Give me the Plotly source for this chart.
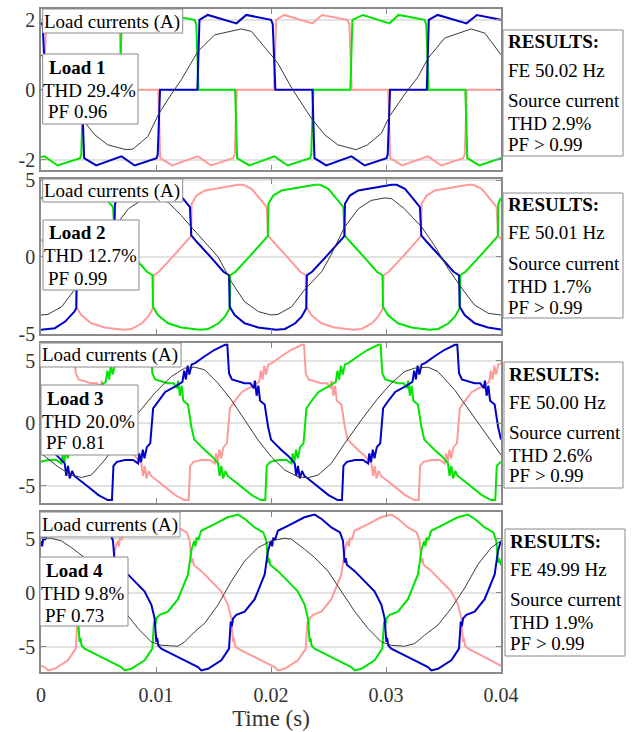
import plotly.graph_objects as go
from plotly.subplots import make_subplots

W, H = 635, 732

# ---------------- data: (time in ms, current in A) ----------------
# Panel 1
BLUE1 = [(0,1.92),(0.15,1.85),(0.4,0.0),(3.55,0.0),(3.75,-1.95),(4.8,-2.16),(7.0,-1.9),(8.15,-2.16),(10.05,-1.95),(10.15,-1.85),(10.35,0.0),(13.6,0.0),(13.78,2.0),(14.5,2.14),(17.0,1.9),(17.85,2.14),(20.0,2.0),(20.15,1.88),(20.38,0.0),(23.6,0.0),(23.78,-1.95),(24.8,-2.16),(27.0,-1.9),(28.15,-2.16),(30.05,-1.95),(30.15,-1.85),(30.35,0.0),(33.55,0.0),(33.72,2.0),(34.5,2.14),(37.0,1.9),(37.9,2.14),(40.0,2.0)]
GREEN1 = [(0,-1.92),(0.3,-1.9),(1.45,-2.16),(3.4,-1.95),(3.5,-1.85),(3.68,0.0),(6.85,0.0),(7.02,2.0),(7.8,2.14),(10.25,1.9),(11.1,2.14),(13.35,2.0),(13.5,1.88),(13.7,0.0),(16.88,0.0),(17.05,-1.95),(18.1,-2.16),(20.3,-1.9),(21.45,-2.16),(23.4,-1.95),(23.5,-1.85),(23.68,0.0),(26.9,0.0),(27.08,2.0),(28.0,2.14),(30.3,1.9),(31.1,2.14),(33.35,2.0),(33.5,1.88),(33.7,0.0),(36.9,0.0),(37.07,-1.95),(38.1,-2.16),(40.0,-1.95)]
PINK1 = [(0,0.0),(0.25,0.0),(0.45,2.0),(1.15,2.14),(3.6,1.9),(4.45,2.14),(6.65,2.0),(6.82,1.88),(7.02,0.0),(10.2,0.0),(10.37,-1.95),(11.4,-2.16),(13.65,-1.9),(14.8,-2.16),(16.7,-1.95),(16.85,-1.85),(17.02,0.0),(20.25,0.0),(20.45,2.0),(21.15,2.14),(23.6,1.9),(24.45,2.14),(26.65,2.0),(26.82,1.88),(27.02,0.0),(30.2,0.0),(30.37,-1.95),(31.4,-2.16),(33.65,-1.9),(34.8,-2.16),(36.7,-1.95),(36.85,-1.85),(37.02,0.0),(40.0,0.0)]
BLACK1 = [(0,1.0),(0.6,0.76),(1.8,0.05),(3.5,-0.81),(4.7,-1.29),(5.8,-1.57),(7.4,-1.71),(8.0,-1.69),(9.3,-1.33),(10.2,-0.71),(11.3,-0.14),(12.2,0.29),(13.65,1.1),(15.1,1.57),(17.4,1.74),(18.3,1.67),(20.0,1.0),(20.6,0.76),(21.8,0.05),(23.5,-0.81),(24.7,-1.29),(25.8,-1.57),(27.4,-1.71),(28.4,-1.57),(29.6,-1.24),(30.3,-0.76),(31.6,-0.14),(32.8,0.38),(33.65,0.9),(35.1,1.48),(37.4,1.74),(38.6,1.62),(40,1.0)]

# Panel 2
BLUE2 = [(0,-4.76),(1.2,-4.65),(2.1,-4.22),(2.9,-3.57),(3.07,-3.35),(3.12,-1.2),(3.57,-0.97),(4.77,0.0),(5.9,1.0),(6.38,1.35),(6.43,3.46),(6.86,4.0),(7.59,4.33),(8.46,4.44),(9.62,4.55),(10.49,4.7),(10.93,4.7),(11.65,4.44),(12.37,3.79),(12.95,3.25),(13.07,1.41),(13.52,1.0),(14.74,0.0),(15.87,-0.97),(16.35,-1.2),(16.41,-3.25),(16.84,-3.79),(17.71,-4.33),(18.87,-4.6),(20.47,-4.76),(21.21,-4.7),(22.11,-4.33),(22.66,-3.9),(23.07,-3.35),(23.12,-1.2),(23.57,-0.97),(24.77,0.0),(25.9,1.0),(26.38,1.35),(26.43,3.46),(26.86,4.0),(27.59,4.33),(28.46,4.44),(29.62,4.55),(30.49,4.7),(30.93,4.7),(31.65,4.44),(32.37,3.79),(32.95,3.25),(33.07,1.41),(33.52,1.0),(34.74,0.0),(35.87,-0.97),(36.35,-1.2),(36.41,-3.25),(36.84,-3.79),(37.71,-4.33),(38.87,-4.6),(40.0,-4.74)]
GREEN2 = [(0,3.8),(0.9,4.33),(1.77,4.44),(2.93,4.55),(3.8,4.7),(4.24,4.7),(4.96,4.44),(5.68,3.79),(6.26,3.25),(6.41,1.41),(6.86,1.0),(8.08,0.0),(9.21,-0.97),(9.69,-1.2),(9.74,-3.25),(10.17,-3.79),(11.04,-4.33),(12.2,-4.6),(13.8,-4.76),(14.54,-4.7),(15.44,-4.33),(15.99,-3.9),(16.41,-3.35),(16.46,-1.2),(16.91,-0.97),(18.11,0.0),(19.24,1.0),(19.72,1.35),(19.77,3.46),(20.2,4.0),(20.93,4.33),(21.8,4.44),(22.96,4.55),(23.83,4.7),(24.27,4.7),(24.99,4.44),(25.71,3.79),(26.29,3.25),(26.41,1.41),(26.86,1.0),(28.08,0.0),(29.21,-0.97),(29.69,-1.2),(29.74,-3.25),(30.17,-3.79),(31.04,-4.33),(32.2,-4.6),(33.8,-4.76),(34.54,-4.7),(35.44,-4.33),(35.99,-3.9),(36.41,-3.35),(36.46,-1.2),(36.91,-0.97),(38.11,0.0),(39.24,1.0),(39.72,1.35),(39.77,3.46),(40.0,3.85)]
PINK2 = [(0,1.15),(1.41,0.0),(2.54,-0.97),(3.02,-1.2),(3.07,-3.25),(3.5,-3.79),(4.37,-4.33),(5.53,-4.6),(7.13,-4.76),(7.87,-4.7),(8.77,-4.33),(9.32,-3.9),(9.74,-3.35),(9.79,-1.2),(10.24,-0.97),(11.44,0.0),(12.57,1.0),(13.05,1.35),(13.1,3.46),(13.53,4.0),(14.26,4.33),(15.13,4.44),(16.29,4.55),(17.16,4.7),(17.6,4.7),(18.32,4.44),(19.04,3.79),(19.62,3.25),(19.74,1.41),(20.19,1.0),(21.41,0.0),(22.54,-0.97),(23.02,-1.2),(23.07,-3.25),(23.5,-3.79),(24.37,-4.33),(25.53,-4.6),(27.13,-4.76),(27.87,-4.7),(28.77,-4.33),(29.32,-3.9),(29.74,-3.35),(29.79,-1.2),(30.24,-0.97),(31.44,0.0),(32.57,1.0),(33.05,1.35),(33.1,3.46),(33.53,4.0),(34.26,4.33),(35.13,4.44),(36.29,4.55),(37.16,4.7),(37.6,4.7),(38.32,4.44),(39.04,3.79),(39.62,3.25),(39.74,1.41),(40.0,1.15)]
BLACK2 = [(0,-3.79),(0.6,-3.75),(1.8,-3.25),(2.9,-2.16),(4.4,-0.97),(5.2,0.1),(6.4,1.95),(7.6,3.14),(8.7,3.68),(9.9,3.85),(11.04,3.57),(12.2,2.7),(13.07,1.95),(14.2,0.97),(15.4,0.0),(16.55,-1.62),(17.7,-2.92),(18.9,-3.57),(20.0,-3.79),(20.6,-3.75),(21.8,-3.25),(22.9,-2.16),(24.4,-0.97),(25.2,0.1),(26.4,1.95),(27.6,3.14),(28.7,3.68),(29.9,3.85),(30.5,3.79),(31.6,3.14),(33.1,1.95),(34.2,0.76),(35.4,-0.76),(36.6,-2.06),(37.7,-3.14),(38.9,-3.68),(40,-3.79)]

# Panel 3
BLUE3 = [(0,-1.3),(0.9,-2.13),(1.5,-2.6),(2.06,-3.2),(2.2,-4.2),(2.35,-3.4),(2.5,-4.4),(2.7,-3.8),(2.9,-4.2),(3.2,-4.4),(4.1,-5.07),(5.0,-5.73),(5.8,-6.13),(6.17,-6.13),(6.3,-3.4),(6.6,-3.07),(7.3,-2.93),(8.0,-2.93),(8.45,-3.2),(8.55,-2.4),(8.7,-3.1),(8.85,-2.1),(9.0,-2.8),(9.2,-1.9),(9.5,-1.6),(9.75,1.2),(10.2,1.8),(10.8,2.5),(11.6,2.9),(12.3,3.3),(12.45,4.2),(12.6,3.5),(12.75,4.6),(12.9,3.9),(13.1,4.7),(13.4,4.8),(14.2,5.33),(15.1,5.87),(16.0,6.27),(16.2,6.27),(16.35,4.0),(16.6,3.5),(17.7,3.2),(18.2,3.2),(18.5,2.8),(18.6,3.4),(18.75,2.2),(18.9,3.0),(19.05,1.8),(19.45,1.5),(19.75,-0.3),
         (20.0,-1.3),(20.9,-2.13),(21.5,-2.6),(22.06,-3.2),(22.2,-4.2),(22.35,-3.4),(22.5,-4.4),(22.7,-3.8),(22.9,-4.2),(23.2,-4.4),(24.1,-5.07),(25.0,-5.73),(25.8,-6.13),(26.17,-6.13),(26.3,-3.4),(26.6,-3.07),(27.3,-2.93),(28.0,-2.93),(28.45,-3.2),(28.55,-2.4),(28.7,-3.1),(28.85,-2.1),(29.0,-2.8),(29.2,-1.9),(29.5,-1.6),(29.75,1.2),(30.2,1.8),(30.8,2.5),(31.6,2.9),(32.3,3.3),(32.45,4.2),(32.6,3.5),(32.75,4.6),(32.9,3.9),(33.1,4.7),(33.4,4.8),(34.2,5.33),(35.1,5.87),(36.0,6.27),(36.2,6.27),(36.35,4.0),(36.6,3.5),(37.7,3.2),(38.2,3.2),(38.5,2.8),(38.6,3.4),(38.75,2.2),(38.9,3.0),(39.05,1.8),(39.45,1.5),(39.75,-0.3),(40.0,-1.3)]
GREEN3 = [(0,-3.06),(0.63,-2.93),(1.33,-2.93),(1.78,-3.2),(1.88,-2.4),(2.03,-3.1),(2.18,-2.1),(2.33,-2.8),(2.53,-1.9),(2.83,-1.6),(3.08,1.2),(3.53,1.8),(4.13,2.5),(4.93,2.9),(5.63,3.3),(5.78,4.2),(5.93,3.5),(6.08,4.6),(6.23,3.9),(6.43,4.7),(6.73,4.8),(7.53,5.33),(8.43,5.87),(9.33,6.27),(9.53,6.27),(9.68,4.0),(9.93,3.5),(11.03,3.2),(11.53,3.2),(11.83,2.8),(11.93,3.4),(12.08,2.2),(12.23,3.0),(12.38,1.8),(12.78,1.5),(13.08,-0.3),(13.33,-1.3),(14.23,-2.13),(14.83,-2.6),(15.39,-3.2),(15.53,-4.2),(15.68,-3.4),(15.83,-4.4),(16.03,-3.8),(16.23,-4.2),(16.53,-4.4),(17.43,-5.07),(18.33,-5.73),(19.13,-6.13),(19.5,-6.13),(19.63,-3.4),(19.93,-3.07),
          (20.63,-2.93),(21.33,-2.93),(21.78,-3.2),(21.88,-2.4),(22.03,-3.1),(22.18,-2.1),(22.33,-2.8),(22.53,-1.9),(22.83,-1.6),(23.08,1.2),(23.53,1.8),(24.13,2.5),(24.93,2.9),(25.63,3.3),(25.78,4.2),(25.93,3.5),(26.08,4.6),(26.23,3.9),(26.43,4.7),(26.73,4.8),(27.53,5.33),(28.43,5.87),(29.33,6.27),(29.53,6.27),(29.68,4.0),(29.93,3.5),(31.03,3.2),(31.53,3.2),(31.83,2.8),(31.93,3.4),(32.08,2.2),(32.23,3.0),(32.38,1.8),(32.78,1.5),(33.08,-0.3),(33.33,-1.3),(34.23,-2.13),(34.83,-2.6),(35.39,-3.2),(35.53,-4.2),(35.68,-3.4),(35.83,-4.4),(36.03,-3.8),(36.23,-4.2),(36.53,-4.4),(37.43,-5.07),(38.33,-5.73),(39.13,-6.13),(39.5,-6.13),(39.63,-3.4),(39.93,-3.07),(40.0,-3.06)]
PINK3 = [(0,4.78),(0.07,4.8),(0.87,5.33),(1.77,5.87),(2.67,6.27),(2.87,6.27),(3.02,4.0),(3.27,3.5),(4.37,3.2),(4.87,3.2),(5.17,2.8),(5.27,3.4),(5.42,2.2),(5.57,3.0),(5.72,1.8),(6.12,1.5),(6.42,-0.3),(6.67,-1.3),(7.57,-2.13),(8.17,-2.6),(8.73,-3.2),(8.87,-4.2),(9.02,-3.4),(9.17,-4.4),(9.37,-3.8),(9.57,-4.2),(9.87,-4.4),(10.77,-5.07),(11.67,-5.73),(12.47,-6.13),(12.84,-6.13),(12.97,-3.4),(13.27,-3.07),(13.97,-2.93),(14.67,-2.93),(15.12,-3.2),(15.22,-2.4),(15.37,-3.1),(15.52,-2.1),(15.67,-2.8),(15.87,-1.9),(16.17,-1.6),(16.42,1.2),(16.87,1.8),(17.47,2.5),(18.27,2.9),(18.97,3.3),(19.12,4.2),(19.27,3.5),(19.42,4.6),(19.57,3.9),(19.77,4.7),
         (20.07,4.8),(20.87,5.33),(21.77,5.87),(22.67,6.27),(22.87,6.27),(23.02,4.0),(23.27,3.5),(24.37,3.2),(24.87,3.2),(25.17,2.8),(25.27,3.4),(25.42,2.2),(25.57,3.0),(25.72,1.8),(26.12,1.5),(26.42,-0.3),(26.67,-1.3),(27.57,-2.13),(28.17,-2.6),(28.73,-3.2),(28.87,-4.2),(29.02,-3.4),(29.17,-4.4),(29.37,-3.8),(29.57,-4.2),(29.87,-4.4),(30.77,-5.07),(31.67,-5.73),(32.47,-6.13),(32.84,-6.13),(32.97,-3.4),(33.27,-3.07),(33.97,-2.93),(34.67,-2.93),(35.12,-3.2),(35.22,-2.4),(35.37,-3.1),(35.52,-2.1),(35.67,-2.8),(35.87,-1.9),(36.17,-1.6),(36.42,1.2),(36.87,1.8),(37.47,2.5),(38.27,2.9),(38.97,3.3),(39.12,4.2),(39.27,3.5),(39.42,4.6),(39.57,3.9),(39.77,4.7),(40.0,4.78)]
BLACK3 = [(0,-2.4),(1.48,-3.47),(2.64,-4.13),(3.5,-4.32),(4.38,-4.13),(5.54,-2.93),(7.0,-1.07),(8.43,0.8),(9.88,2.4),(11.33,3.73),(12.49,4.4),(13.36,4.48),(14.23,4.27),(15.39,3.2),(16.55,1.87),(17.71,0.27),(18.87,-1.33),(20.03,-2.67),(21.19,-3.73),(22.35,-4.27),(23.2,-4.35),(24.09,-4.13),(25.25,-3.2),(26.41,-1.6),(27.86,0.27),(29.3,2.0),(30.46,3.2),(31.62,4.13),(32.49,4.4),(33.65,4.48),(34.52,4.13),(35.97,2.67),(37.42,0.8),(38.87,-1.07),(40,-2.53)]

# Panel 4
BLUE4 = [(0,4.8),(0.1,4.3),(0.2,5.1),(0.35,4.9),(0.6,5.75),(1.8,6.38),(2.9,7.0),(3.8,7.25),(4.4,6.84),(5.25,6.06),(6.0,5.59),(6.26,4.81),(6.41,2.78),(6.5,3.2),(6.6,2.6),(7.28,2.0),(8.14,1.06),(9.0,0.13),(9.6,-1.13),(9.88,-2.38),(10.03,-4.56),(10.1,-4.2),(10.2,-4.9),(10.46,-5.19),(11.62,-5.81),(12.78,-6.44),(13.65,-6.91),(13.94,-7.22),(14.52,-7.06),(15.68,-6.28),(16.35,-5.19),(16.5,-2.69),(16.6,-3.1),(16.7,-2.4),(16.99,-2.06),(17.71,-1.75),(18.58,-0.6),(19.45,1.69),(19.74,3.88),(19.9,4.5),
         (20.0,4.8),(20.1,4.3),(20.2,5.1),(20.35,4.9),(20.6,5.75),(21.8,6.38),(22.9,7.0),(23.8,7.25),(24.4,6.84),(25.25,6.06),(26.0,5.59),(26.26,4.81),(26.41,2.78),(26.5,3.2),(26.6,2.6),(27.28,2.0),(28.14,1.06),(29.0,0.13),(29.6,-1.13),(29.88,-2.38),(30.03,-4.56),(30.1,-4.2),(30.2,-4.9),(30.46,-5.19),(31.62,-5.81),(32.78,-6.44),(33.65,-6.91),(33.94,-7.22),(34.52,-7.06),(35.68,-6.28),(36.35,-5.19),(36.5,-2.69),(36.6,-3.1),(36.7,-2.4),(36.99,-2.06),(37.71,-1.75),(38.58,-0.6),(39.45,1.69),(39.74,3.88),(39.9,4.5),(40.0,4.8)]
GREEN4 = [(0,2.55),(0.61,2.0),(1.47,1.06),(2.33,0.13),(2.93,-1.13),(3.21,-2.38),(3.36,-4.56),(3.43,-4.2),(3.53,-4.9),(3.79,-5.19),(4.95,-5.81),(6.11,-6.44),(6.98,-6.91),(7.27,-7.22),(7.85,-7.06),(9.01,-6.28),(9.68,-5.19),(9.83,-2.69),(9.93,-3.1),(10.03,-2.4),(10.32,-2.06),(11.04,-1.75),(11.91,-0.6),(12.78,1.69),(13.07,3.88),(13.23,4.5),(13.33,4.8),(13.43,4.3),(13.53,5.1),(13.68,4.9),(13.93,5.75),(15.13,6.38),(16.23,7.0),(17.13,7.25),(17.73,6.84),(18.58,6.06),(19.33,5.59),(19.59,4.81),(19.74,2.78),(19.83,3.2),(19.93,2.6),
          (20.61,2.0),(21.47,1.06),(22.33,0.13),(22.93,-1.13),(23.21,-2.38),(23.36,-4.56),(23.43,-4.2),(23.53,-4.9),(23.79,-5.19),(24.95,-5.81),(26.11,-6.44),(26.98,-6.91),(27.27,-7.22),(27.85,-7.06),(29.01,-6.28),(29.68,-5.19),(29.83,-2.69),(29.93,-3.1),(30.03,-2.4),(30.32,-2.06),(31.04,-1.75),(31.91,-0.6),(32.78,1.69),(33.07,3.88),(33.23,4.5),(33.33,4.8),(33.43,4.3),(33.53,5.1),(33.68,4.9),(33.93,5.75),(35.13,6.38),(36.23,7.0),(37.13,7.25),(37.73,6.84),(38.58,6.06),(39.33,5.59),(39.59,4.81),(39.74,2.78),(39.83,3.2),(39.93,2.6),(40.0,2.55)]
PINK4 = [(0,-6.8),(0.32,-6.91),(0.61,-7.22),(1.19,-7.06),(2.35,-6.28),(3.02,-5.19),(3.17,-2.69),(3.27,-3.1),(3.37,-2.4),(3.66,-2.06),(4.38,-1.75),(5.25,-0.6),(6.12,1.69),(6.41,3.88),(6.57,4.5),(6.67,4.8),(6.77,4.3),(6.87,5.1),(7.02,4.9),(7.27,5.75),(8.47,6.38),(9.57,7.0),(10.47,7.25),(11.07,6.84),(11.92,6.06),(12.67,5.59),(12.93,4.81),(13.08,2.78),(13.17,3.2),(13.27,2.6),(13.95,2.0),(14.81,1.06),(15.67,0.13),(16.27,-1.13),(16.55,-2.38),(16.7,-4.56),(16.77,-4.2),(16.87,-4.9),(17.13,-5.19),(18.29,-5.81),(19.45,-6.44),
         (20.32,-6.91),(20.61,-7.22),(21.19,-7.06),(22.35,-6.28),(23.02,-5.19),(23.17,-2.69),(23.27,-3.1),(23.37,-2.4),(23.66,-2.06),(24.38,-1.75),(25.25,-0.6),(26.12,1.69),(26.41,3.88),(26.57,4.5),(26.67,4.8),(26.77,4.3),(26.87,5.1),(27.02,4.9),(27.27,5.75),(28.47,6.38),(29.57,7.0),(30.47,7.25),(31.07,6.84),(31.92,6.06),(32.67,5.59),(32.93,4.81),(33.08,2.78),(33.17,3.2),(33.27,2.6),(33.95,2.0),(34.81,1.06),(35.67,0.13),(36.27,-1.13),(36.55,-2.38),(36.7,-4.56),(36.77,-4.2),(36.87,-4.9),(37.13,-5.19),(38.29,-5.81),(39.45,-6.44),(40.0,-6.8)]
BLACK4 = [(0,5.06),(0.9,5.06),(1.77,4.81),(2.64,4.19),(3.8,3.25),(4.96,2.0),(6.12,0.13),(7.28,-1.75),(8.43,-3.31),(9.59,-4.56),(10.46,-4.88),(11.91,-4.97),(12.49,-4.56),(13.36,-3.63),(14.23,-2.84),(15.39,-1.13),(16.55,1.06),(17.71,2.94),(18.87,4.19),(20.03,4.81),(21.19,5.06),(21.77,4.97),(22.93,4.03),(23.8,3.25),(24.96,2.0),(26.12,0.13),(27.28,-1.75),(28.43,-3.31),(29.59,-4.56),(30.46,-4.88),(31.62,-4.97),(32.49,-4.72),(33.36,-3.94),(34.52,-3.0),(35.68,-1.44),(36.84,0.44),(38.0,2.63),(39.16,4.19),(40,4.81)]

# Tick labels and text
TIME_TICKS = [0, 0.01, 0.02, 0.03, 0.04]
TIME_TICK_TEXT = ["0", "0.01", "0.02", "0.03", "0.04"]
Y_TICKS = [[-2, 0, 2], [-5, 0, 5], [-5, 0, 5], [-5, 0, 5]]
Y_TICK_TEXT = [["-2", "0", "2"], ["-5", "0", "5"], ["-5", "0", "5"], ["-5", "0", "5"]]
LOAD_NAMES = ["Load 1", "Load 2", "Load 3", "Load 4"]
LOAD_THD = ["THD 29.4%", "THD 12.7%", "THD 20.0%", "THD 9.8%"]
LOAD_PF = ["PF 0.96", "PF 0.99", "PF 0.81", "PF 0.73"]
FE_TEXT = ["FE 50.02 Hz", "FE 50.01 Hz", "FE 50.00 Hz", "FE 49.99 Hz"]
SRC_THD = ["THD 2.9%", "THD 1.7%", "THD 2.6%", "THD 1.9%"]
SRC_PF = ["PF &gt; 0.99", "PF &gt; 0.99", "PF &gt; 0.99", "PF &gt; 0.99"]

PANELS = [(PINK1, GREEN1, BLUE1, BLACK1), (PINK2, GREEN2, BLUE2, BLACK2),
          (PINK3, GREEN3, BLUE3, BLACK3), (PINK4, GREEN4, BLUE4, BLACK4)]

# ---------------- layout geometry (pixels) ----------------
X0, X1 = 41, 501
FRAMES = [(9, 170), (179, 334), (343, 503), (512, 672)]
YRANGES = [(-2.29, 2.31), (-5.03, 5.08), (-6.36, 6.41), (-7.36, 7.49)]
LC_BOX = [(42.7, 182.7, 9, 33), (42.7, 182.7, 179, 202), (40, 181, 343, 367), (40, 180, 512, 537)]
LOAD_BOX = [(42.7, 138, 54, 124), (43, 139, 220, 290), (41, 138, 385, 455), (40, 128, 557, 626)]
RES_BOX = [(503, 623, 30, 156), (503, 623, 193, 318), (504, 623, 362, 488), (505, 625, 529, 656)]

COLORS = ["#ff9a9a", "#00e400", "#0000c8", "#3a3a3a"]
WIDTHS = [2, 2, 2, 1]
FONT = "Liberation Serif, Times New Roman, serif"
FRAME_COL = "#8a8a8a"


def px(x):
    return x / W


def py(y):
    return 1 - y / H


fig = make_subplots(rows=4, cols=1)

for i, traces in enumerate(PANELS):
    for tr, col, wd in zip(traces, COLORS, WIDTHS):
        fig.add_trace(go.Scatter(x=[p[0] / 1000 for p in tr], y=[p[1] for p in tr],
                                 mode="lines", line=dict(color=col, width=wd),
                                 hoverinfo="skip", showlegend=False), row=i + 1, col=1)

shapes = []
annots = []
for i in range(4):
    xa = "xaxis" if i == 0 else f"xaxis{i + 1}"
    ya = "yaxis" if i == 0 else f"yaxis{i + 1}"
    top, bot = FRAMES[i]
    fig.layout[xa].update(domain=[px(X0), px(X1)], range=[0, 0.04], tickvals=TIME_TICKS,
                          ticktext=TIME_TICK_TEXT, showticklabels=(i == 3), ticks="inside",
                          ticklen=5, tickcolor=FRAME_COL, showline=True, linecolor=FRAME_COL,
                          linewidth=1.5, mirror="ticks", showgrid=False, zeroline=False,
                          tickfont=dict(family=FONT, size=20, color="#333333"))
    fig.layout[ya].update(domain=[py(bot), py(top)], range=list(YRANGES[i]), tickvals=Y_TICKS[i],
                          ticktext=Y_TICK_TEXT[i], ticks="inside", ticklen=5, tickcolor=FRAME_COL,
                          showline=True, linecolor=FRAME_COL, linewidth=1.5, mirror="ticks",
                          showgrid=True, gridcolor="#e2e2e2", gridwidth=1.5, zeroline=False,
                          tickfont=dict(family=FONT, size=20, color="#333333"), automargin=False)

    for (bx0, bx1, by0, by1) in (LC_BOX[i], LOAD_BOX[i], RES_BOX[i]):
        shapes.append(dict(type="rect", xref="paper", yref="paper", x0=px(bx0), x1=px(bx1),
                           y0=py(by1), y1=py(by0), fillcolor="white",
                           line=dict(color=FRAME_COL, width=1), layer="above"))

    def txt(x, y, s):
        annots.append(dict(xref="paper", yref="paper", x=px(x), y=py(y), text=s, showarrow=False,
                           xanchor="left", yanchor="middle", borderpad=0,
                           font=dict(family=FONT, size=19, color="black")))

    bx0, bx1, by0, by1 = LC_BOX[i]
    txt(bx0 + 0.5, (by0 + by1) / 2 + 0.5, "Load currents (A)")
    bx0, bx1, by0, by1 = LOAD_BOX[i]
    txt(bx0 + 5, by0 + 13, "<b>" + LOAD_NAMES[i] + "</b>")
    txt(bx0 - 0.5, by0 + 36, LOAD_THD[i])
    txt(bx0 + 4, by0 + 58, LOAD_PF[i])
    bx0, bx1, by0, by1 = RES_BOX[i]
    txt(bx0 + 4, by0 + 12, "<b>RESULTS:</b>")
    txt(bx0 + 4, by0 + 40, FE_TEXT[i])
    txt(bx0 + 4, by0 + 70, "Source current")
    txt(bx0 + 4, by0 + 93, SRC_THD[i])
    txt(bx0 + 4, by0 + 114, SRC_PF[i])

fig.layout.xaxis4.update(title=dict(text="Time (s)", font=dict(family=FONT, size=23, color="#333333"),
                                    standoff=2), automargin=False, ticklabelstandoff=4)

fig.update_layout(width=W, height=H, margin=dict(l=0, r=0, t=0, b=0, autoexpand=False),
                  paper_bgcolor="white", plot_bgcolor="white", showlegend=False,
                  shapes=shapes, annotations=annots)

fig.write_html("out.html")
